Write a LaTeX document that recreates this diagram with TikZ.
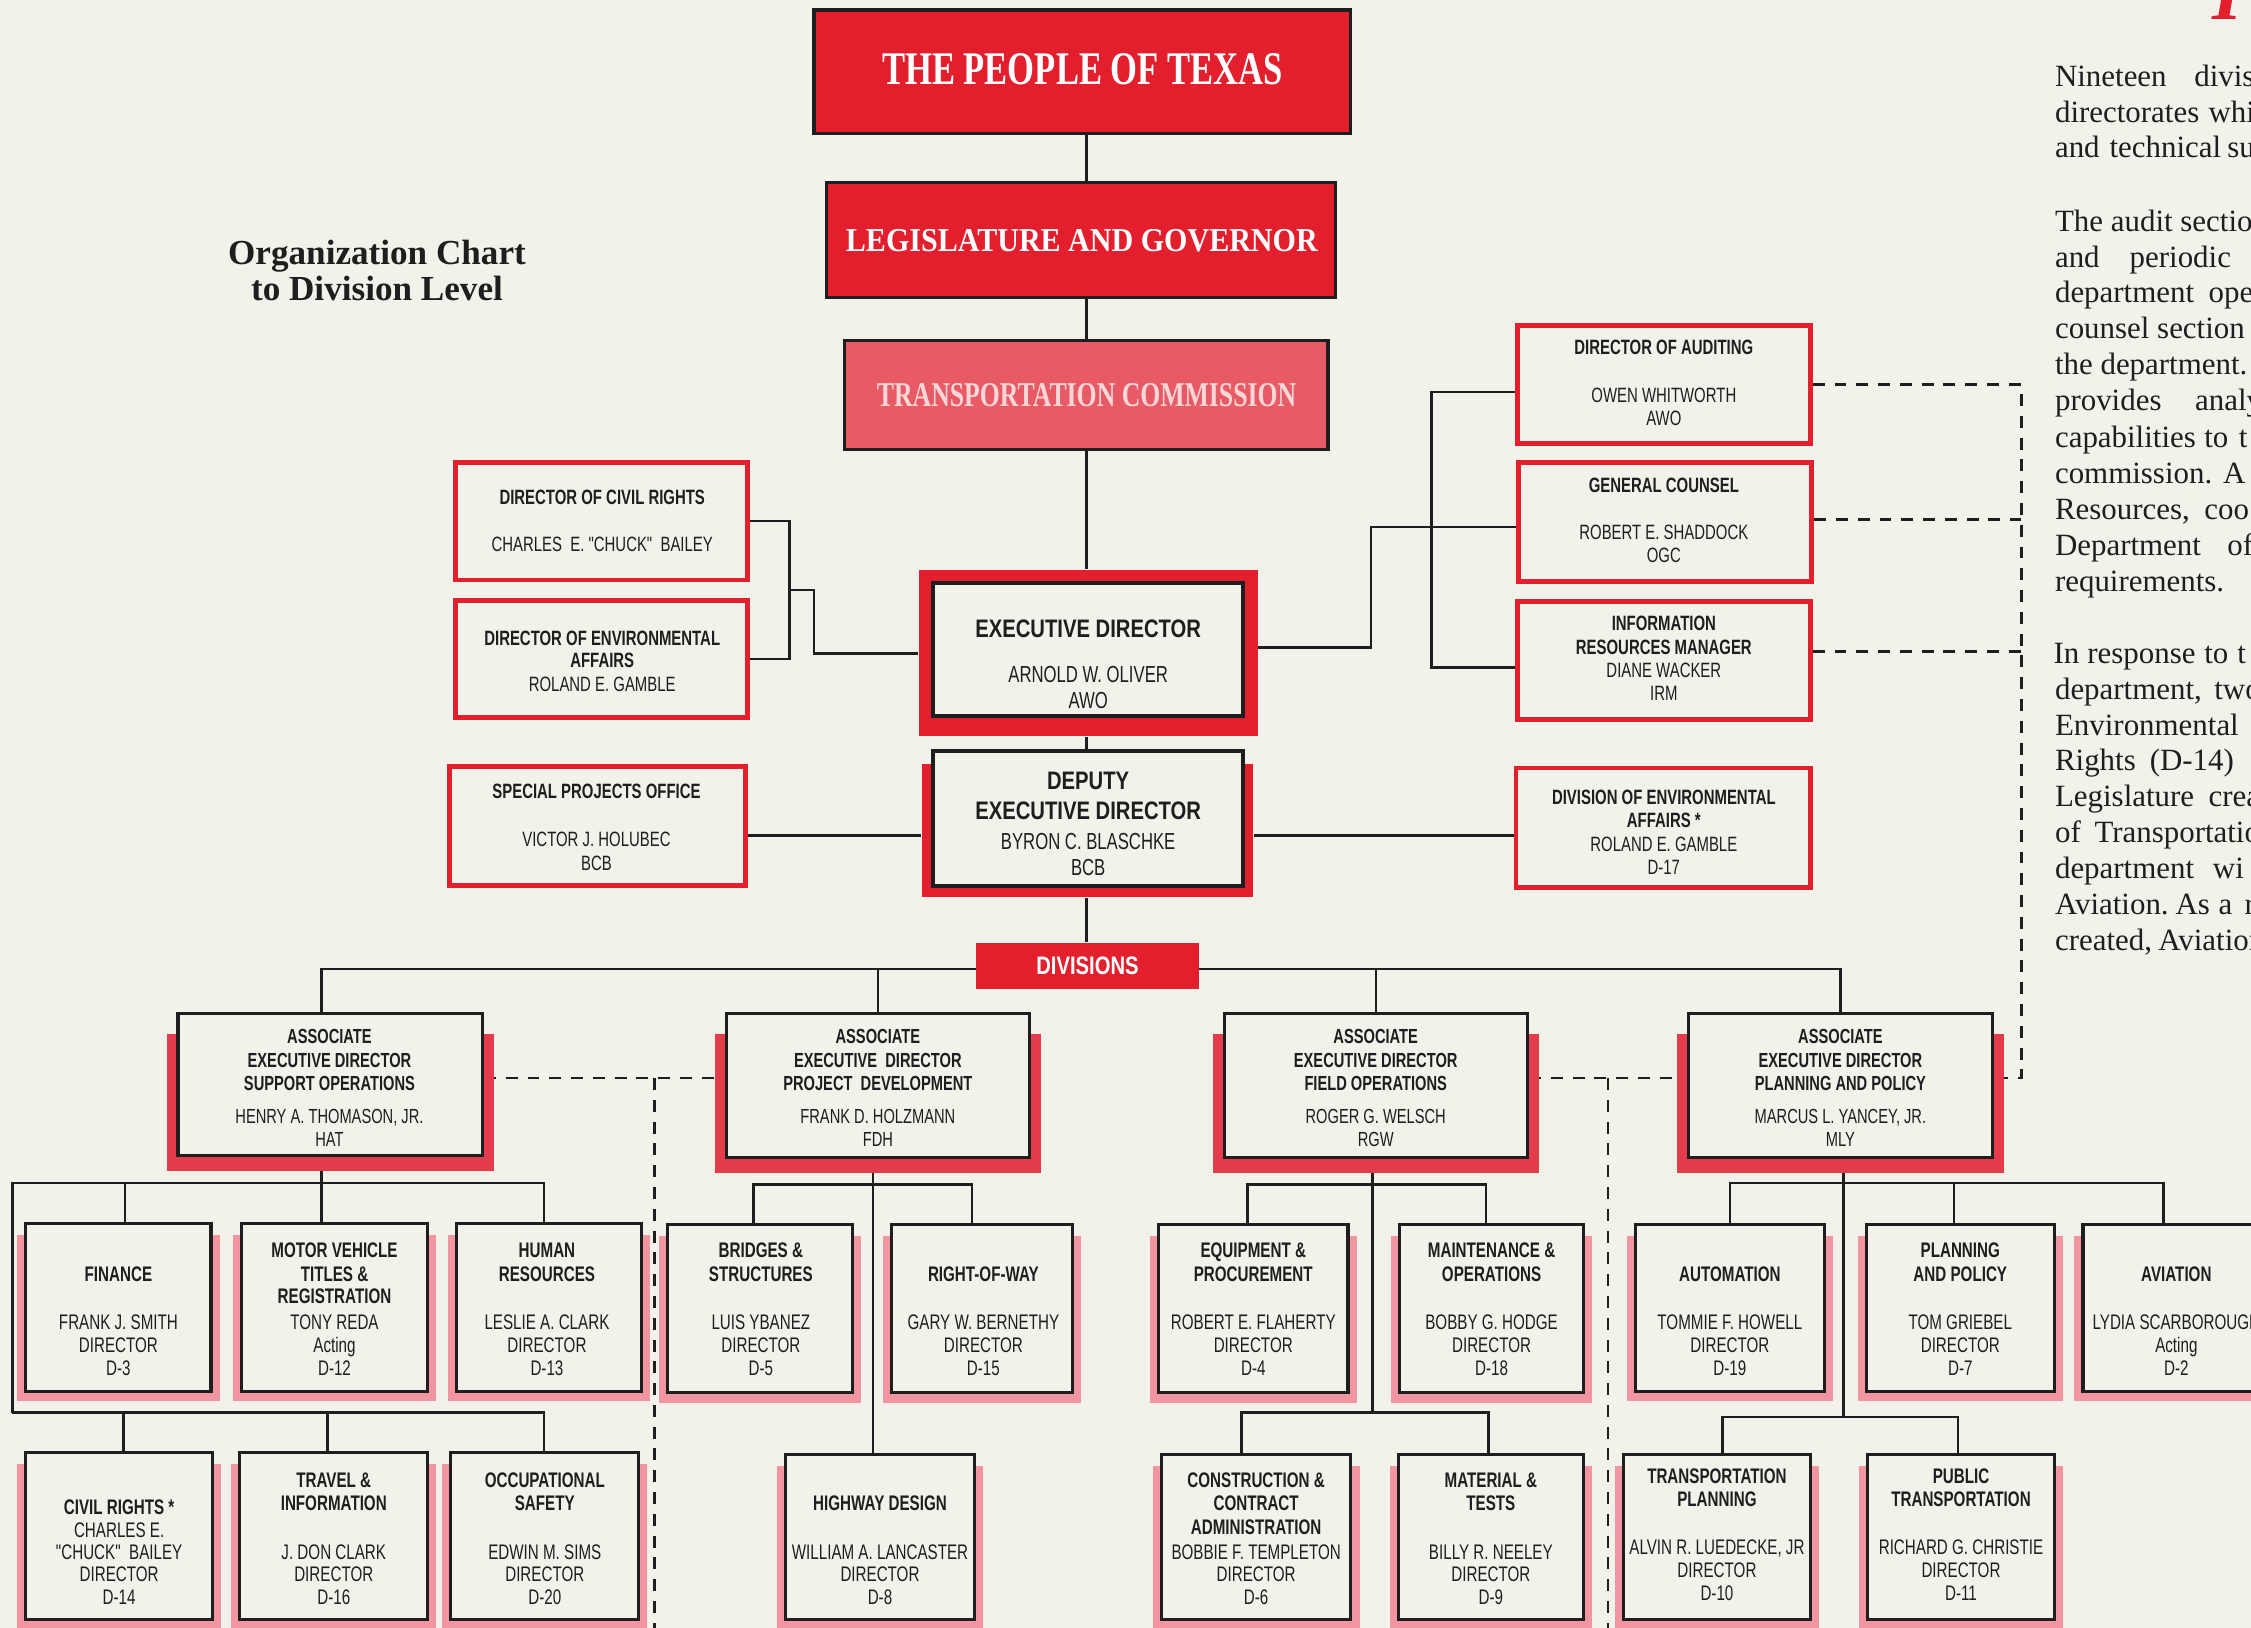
\documentclass[tikz,border=0pt]{standalone}
\usepackage{fontspec}
\usepackage{graphicx}
\setmainfont{Liberation Serif}
\newfontfamily\cond[FakeStretch=0.72]{Liberation Sans}
\newfontfamily\condw[FakeStretch=0.8]{Liberation Sans}
\usetikzlibrary{fit}
\definecolor{paper}{RGB}{242,241,234}
\definecolor{ink}{RGB}{30,30,30}
\definecolor{tred}{RGB}{227,30,45}
\definecolor{tpink}{RGB}{232,90,102}
\definecolor{tlight}{RGB}{250,215,215}
\definecolor{shred}{RGB}{229,60,76}
\definecolor{shpink}{RGB}{241,150,160}
\pgfdeclarelayer{back}\pgfdeclarelayer{bg}\pgfsetlayers{back,bg,main}
\newcounter{tlc}
\newcommand\B[1]{\textbf{#1}}
\newcommand\TL[4]{\if\relax\detokenize{#4}\relax\else\stepcounter{tlc}\node[#1] (tl\arabic{tlc}) at ({#2},{#3}) {#4};\fi}
\newcommand\rowone[7]{\TL{l6}{#1}{871}{#2}\TL{l6}{#1}{887.5}{#3}\TL{l6}{#1}{903}{#4}\TL{l6}{#1}{920.6}{#5}\TL{l6}{#1}{937}{#6}\TL{l6}{#1}{953.2}{#7}}
\newcommand\rowtwo[8]{\TL{l6}{#1}{1031+(#2)}{#3}\TL{l6}{#1}{1047+(#2)}{#4}\TL{l6}{#1}{1063.5+(#2)}{#5}\TL{l6}{#1}{1080.8+(#2)}{#6}\TL{l6}{#1}{1096.6+(#2)}{#7}\TL{l6}{#1}{1112.5+(#2)}{#8}}
\newcommand\asso[6]{\TL{la}{#1}{721.8}{\B{#2}}\TL{la}{#1}{738.4}{\B{#3}}\TL{la}{#1}{754.3}{\B{#4}}\TL{la}{#1}{777.2}{#5}\TL{la}{#1}{793.4}{#6}}
\newcommand\dbx[5]{\fill[shpink] ({#2-6},{#3+8}) rectangle ({#4+6},{#5+7});\node[dbox, fit={(#2,#3) (#4,#5)}] (#1) {};}
\newcommand\abx[5]{\fill[shred] ({#2-8},{#3+14}) rectangle ({#4+8},{#5+11});\node[dbox, fit={(#2,#3) (#4,#5)}] (#1) {};}
\newcommand\rbx[5]{\node[rbox, fit={(#2,#3) (#4,#5)}] (#1) {};}
\newcommand\PW[3]{\stepcounter{tlc}\node[para] (tl\arabic{tlc}) at ({#1},{#2+5}) {#3};}
\begin{document}
\begin{tikzpicture}[x=0.014356cm, y=-0.014356cm,
 conn/.style={draw=ink, line width=0.75pt},
 dline/.style={draw=ink, line width=0.75pt, dash pattern=on 3.4pt off 2.8pt},
 dbox/.style={draw=ink, line width=0.9pt, fill=paper, inner sep=0pt},
 rbox/.style={draw=tred, line width=1.4pt, fill=paper, inner sep=0pt},
 bigbox/.style={draw=ink, line width=0.9pt, fill=tred, inner sep=0pt},
 l6/.style={inner sep=0pt, text height=4.3pt, text depth=0pt, text=ink, font=\cond\fontsize{6}{7}\selectfont},
 la/.style={inner sep=0pt, text height=4.15pt, text depth=0pt, text=ink, font=\cond\fontsize{5.8}{7}\selectfont},
 ls/.style={inner sep=0pt, text height=4.2pt, text depth=0pt, text=ink, font=\cond\fontsize{5.9}{7}\selectfont},
 lt/.style={inner sep=0pt, text height=5.15pt, text depth=0pt, text=ink, font=\condw\bfseries\fontsize{7.2}{8}\selectfont},
 ln/.style={inner sep=0pt, text height=4.7pt, text depth=0pt, text=ink, font=\cond\fontsize{6.6}{8}\selectfont},
 para/.style={inner sep=0pt, anchor=base west, text=ink, font=\fontsize{8.8}{10}\selectfont}]
\clip (0,0) rectangle (1568,1134);
\begin{pgfonlayer}{back}\fill[paper] (0,0) rectangle (1568,1134);\end{pgfonlayer}

% heading fragment and title
\node[anchor=base west, inner sep=0pt, text=tred, font=\bfseries\itshape\fontsize{22}{22}\selectfont] (redI) at (1541,13.9) {I};
\node[anchor=base, inner sep=0pt, text=ink, font=\bfseries\fontsize{10}{12}\selectfont] (ttl1) at (262.6,184.5) {Organization Chart};
\node[anchor=base, inner sep=0pt, text=ink, font=\bfseries\fontsize{10}{12}\selectfont] (ttl2) at (262.6,209.5) {to Division Level};

% top chain
\node[bigbox, fit={(567,7) (941,93)}] (people) {};
\node[inner sep=0pt, text=white, font=\bfseries\fontsize{13.3}{14}\selectfont, text height=8.8pt, text depth=0pt] (peopleT) at (754,47.8) {\scalebox{0.74}[1]{THE PEOPLE OF TEXAS}};
\node[bigbox, fit={(576,127) (930,207)}] (legis) {};
\node[inner sep=0pt, text=white, font=\bfseries\fontsize{9.5}{10}\selectfont, text height=6.3pt, text depth=0pt] (legisT) at (753.6,167.2) {\scalebox{0.9}[1]{LEGISLATURE AND GOVERNOR}};
\node[bigbox, fill=tpink, fit={(588,237) (925,313)}] (comm) {};
\node[inner sep=0pt, text=tlight, font=\bfseries\fontsize{9.9}{10}\selectfont, text height=6.5pt, text depth=0pt] (commT) at (756.9,274.9) {\scalebox{0.74}[1]{TRANSPORTATION COMMISSION}};

% executive and deputy
\node[fill=tred, inner sep=0pt, fit={(640,397) (876,513)}] (execF) {};
\node[dbox, line width=1.1pt, fit={(650,406) (866,499)}] (exec) {};
\node[fill=tred, inner sep=0pt, fit={(642,532) (873,625)}] (depF) {};
\node[dbox, line width=1.1pt, fit={(650,523) (866,617)}] (dep) {};
\TL{lt}{758}{437.5}{EXECUTIVE DIRECTOR}
\TL{ln}{758}{470}{ARNOLD W. OLIVER}
\TL{ln}{758}{487.5}{AWO}
\TL{lt}{758}{543.5}{DEPUTY}
\TL{lt}{758}{564.3}{EXECUTIVE DIRECTOR}
\TL{ln}{758}{586}{BYRON C. BLASCHKE}
\TL{ln}{758}{603.8}{BCB}
\node[fill=tred, inner sep=0pt, fit={(680,657) (835,689)}] (divs) {};
\node[inner sep=0pt, text=white, font=\condw\bfseries\fontsize{7.2}{8}\selectfont, text height=5.1pt, text depth=0pt] (divsT) at (757.5,672.5) {DIVISIONS};

% staff boxes left
\rbx{crt}{317}{322}{521}{404}
\rbx{env}{317}{418}{521}{500}
\rbx{sp}{313}{534}{519}{617}
\TL{ls}{419.5}{346}{\B{DIRECTOR OF CIVIL RIGHTS}}
\TL{ls}{419.5}{378.7}{CHARLES\ \ E. "CHUCK"\ \ BAILEY}
\TL{ls}{419.5}{444.3}{\B{DIRECTOR OF ENVIRONMENTAL}}
\TL{ls}{419.5}{460}{\B{AFFAIRS}}
\TL{ls}{419.5}{476.5}{ROLAND E. GAMBLE}
\TL{ls}{415.5}{551.3}{\B{SPECIAL PROJECTS OFFICE}}
\TL{ls}{415.5}{584.7}{VICTOR J. HOLUBEC}
\TL{ls}{415.5}{601}{BCB}

% staff boxes right
\rbx{aud}{1057}{227}{1261}{309}
\rbx{gc}{1058}{322}{1262}{405}
\rbx{irm}{1057}{419}{1261}{501}
\rbx{denv}{1056}{535}{1261}{618}
\TL{ls}{1159}{242}{\B{DIRECTOR OF AUDITING}}
\TL{ls}{1159}{275}{OWEN WHITWORTH}
\TL{ls}{1159}{291.3}{AWO}
\TL{ls}{1159}{338}{\B{GENERAL COUNSEL}}
\TL{ls}{1159}{370.5}{ROBERT\ E. SHADDOCK}
\TL{ls}{1159}{387}{OGC}
\TL{ls}{1159}{434.3}{\B{INFORMATION}}
\TL{ls}{1159}{450.5}{\B{RESOURCES MANAGER}}
\TL{ls}{1159}{467}{DIANE WACKER}
\TL{ls}{1159}{483}{IRM}
\TL{ls}{1159}{555.5}{\B{DIVISION OF ENVIRONMENTAL}}
\TL{ls}{1159}{571.5}{\B{AFFAIRS *}}
\TL{ls}{1159}{588.3}{ROLAND E. GAMBLE}
\TL{ls}{1159}{604.3}{D-17}

% associate boxes
\abx{a1}{124}{706}{336}{805}
\abx{a2}{506}{706}{717}{806}
\abx{a3}{853}{706}{1064}{806}
\abx{a4}{1176}{706}{1388}{806}
\asso{229.5}{ASSOCIATE}{EXECUTIVE DIRECTOR}{SUPPORT OPERATIONS}{HENRY A. THOMASON, JR.}{HAT}
\asso{611.5}{ASSOCIATE}{EXECUTIVE\ \ DIRECTOR}{PROJECT\ \ DEVELOPMENT}{FRANK D. HOLZMANN}{FDH}
\asso{958.3}{ASSOCIATE}{EXECUTIVE DIRECTOR}{FIELD OPERATIONS}{ROGER G. WELSCH}{RGW}
\asso{1282}{ASSOCIATE}{EXECUTIVE DIRECTOR}{PLANNING AND POLICY}{MARCUS L. YANCEY, JR.}{MLY}

% division boxes
\dbx{fin}{18}{852}{147}{969}
\dbx{mv}{168}{852}{298}{969}
\dbx{hr}{318}{852}{447}{969}
\dbx{crd}{18}{1012}{148}{1128}
\dbx{tri}{167}{1012}{298}{1128}
\dbx{ocs}{314}{1012}{445}{1128}
\dbx{bri}{465}{853}{594}{970}
\dbx{row}{621}{853}{747}{970}
\dbx{hwy}{547}{1013}{679}{1128}
\dbx{eqp}{807}{853}{939}{970}
\dbx{mnt}{975}{853}{1103}{970}
\dbx{con}{809}{1013}{941}{1128}
\dbx{mat}{974}{1013}{1103}{1128}
\dbx{aut}{1139}{853}{1271}{969}
\dbx{pol}{1300}{853}{1431}{969}
\dbx{avi}{1451}{853}{1583}{969}
\dbx{tpl}{1131}{1013}{1261}{1128}
\dbx{pub}{1301}{1013}{1431}{1128}

\rowone{82.5}{}{\B{FINANCE}}{}{FRANK J. SMITH}{DIRECTOR}{D-3}
\rowone{233}{\B{MOTOR VEHICLE}}{\B{TITLES \&}}{\B{REGISTRATION}}{TONY REDA}{Acting}{D-12}
\rowone{381}{\B{HUMAN}}{\B{RESOURCES}}{}{LESLIE A. CLARK}{DIRECTOR}{D-13}
\rowone{530}{\B{BRIDGES \&}}{\B{STRUCTURES}}{}{LUIS YBANEZ}{DIRECTOR}{D-5}
\rowone{685}{}{\B{RIGHT-OF-WAY}}{}{GARY W. BERNETHY}{DIRECTOR}{D-15}
\rowone{873}{\B{EQUIPMENT \&}}{\B{PROCUREMENT}}{}{ROBERT E. FLAHERTY}{DIRECTOR}{D-4}
\rowone{1039}{\B{MAINTENANCE \&}}{\B{OPERATIONS}}{}{BOBBY G. HODGE}{DIRECTOR}{D-18}
\rowone{1205}{}{\B{AUTOMATION}}{}{TOMMIE\ F.\ HOWELL}{DIRECTOR}{D-19}
\rowone{1365.5}{\B{PLANNING}}{\B{AND POLICY}}{}{TOM GRIEBEL}{DIRECTOR}{D-7}
\rowone{1516}{}{\B{AVIATION}}{}{LYDIA SCARBOROUGH}{Acting}{D-2}

\TL{l6}{83}{1050}{\B{CIVIL RIGHTS *}}
\TL{l6}{83}{1065.8}{CHARLES E.}
\TL{l6}{83}{1081}{"CHUCK"\ \ BAILEY}
\TL{l6}{83}{1096.6}{DIRECTOR}
\TL{l6}{83}{1112.5}{D-14}
\rowtwo{232.5}{0}{\B{TRAVEL \&}}{\B{INFORMATION}}{}{J. DON CLARK}{DIRECTOR}{D-16}
\rowtwo{379.5}{0}{\B{OCCUPATIONAL}}{\B{SAFETY}}{}{EDWIN M. SIMS}{DIRECTOR}{D-20}
\rowtwo{613}{0}{}{\B{HIGHWAY DESIGN}}{}{WILLIAM A. LANCASTER}{DIRECTOR}{D-8}
\rowtwo{875}{0}{\B{CONSTRUCTION \&}}{\B{CONTRACT}}{\B{ADMINISTRATION}}{BOBBIE F. TEMPLETON}{DIRECTOR}{D-6}
\rowtwo{1038.5}{0}{\B{MATERIAL \&}}{\B{TESTS}}{}{BILLY R. NEELEY}{DIRECTOR}{D-9}
\rowtwo{1196}{-3}{\B{TRANSPORTATION}}{\B{PLANNING}}{}{ALVIN R. LUEDECKE, JR}{DIRECTOR}{D-10}
\rowtwo{1366}{-3}{\B{PUBLIC}}{\B{TRANSPORTATION}}{}{RICHARD G. CHRISTIE}{DIRECTOR}{D-11}

% right-hand text column (cut off at the page edge)
\PW{1431}{55}{Nineteen}\PW{1528}{55}{divis}
\PW{1431}{80}{directorates}\PW{1538}{80}{whi}
\PW{1431}{105}{and}\PW{1469}{105}{technical}\PW{1551}{105}{su}
\PW{1431}{156}{The audit sectio}
\PW{1431}{181}{and}\PW{1483}{181}{periodic}
\PW{1431}{206}{department}\PW{1538}{206}{ope}
\PW{1431}{231}{counsel section}
\PW{1431}{256}{the department.}
\PW{1431}{281}{provides}\PW{1528.6}{281}{analy}
\PW{1431}{307}{capabilities}\PW{1535}{307}{to}\PW{1559}{307}{t}
\PW{1431}{332}{commission.}\PW{1548}{332}{A}
\PW{1431}{357}{Resources,}\PW{1535}{357}{coo}
\PW{1431}{382}{Department}\PW{1551}{382}{of}
\PW{1431}{407}{requirements.}
\PW{1430}{457}{In}\PW{1453.5}{457}{response}\PW{1535}{457}{to}\PW{1558}{457}{t}
\PW{1431}{482}{department,}\PW{1542}{482}{two}
\PW{1431}{507}{Environmental}
\PW{1431}{532}{Rights}\PW{1497}{532}{(D-14)}
\PW{1431}{557}{Legislature}\PW{1538}{557}{crea}
\PW{1431}{582}{of}\PW{1458.5}{582}{Transportatio}
\PW{1431}{607}{department}\PW{1541}{607}{wi}
\PW{1431}{632}{Aviation.}\PW{1515}{632}{As}\PW{1545}{632}{a}\PW{1563}{632}{r}
\PW{1431}{657}{created,}\PW{1503}{657}{Aviation}

% ---------- connectors ----------
\begin{pgfonlayer}{bg}
\coordinate (spine) at (757,0);
\draw[conn] (people.south -| spine) -- (legis.north -| spine);
\draw[conn] (legis.south -| spine) -- (comm.north -| spine);
\draw[conn] (comm.south -| spine) -- (execF.north -| spine);
\draw[conn] (execF.south -| spine) -- (dep.north -| spine);
\draw[conn] (depF.south -| spine) -- (divs.north -| spine);

\coordinate (busT) at (0,675);
\coordinate (a1x) at (224,0);
\draw[conn] (a1.north -| a1x) |- (divs.west |- busT);
\draw[conn] (divs.east |- busT) -| (a4.north);
\draw[conn] (a2.north) -- (a2.north |- busT);
\draw[conn] (a3.north) -- (a3.north |- busT);

\coordinate (jL) at (550,0);
\draw[conn] (crt.east) -| (env.east -| jL) -- (env.east);
\coordinate (j1) at (550,411); \coordinate (j2) at (567,455);
\draw[conn] (j1) -| (j2) -- (execF.west |- j2);
\coordinate (hsp) at (0,582);
\draw[conn] (sp.east |- hsp) -- (depF.west |- hsp);
\draw[conn] (depF.east |- hsp) -- (denv.west |- hsp);

\coordinate (jR1) at (955,451); \coordinate (jR2) at (955,367);
\draw[conn] (execF.east |- jR1) -- (jR1) -- (jR2) -- (gc.west |- jR2);
\coordinate (bA) at (997,273); \coordinate (bI) at (997,465);
\draw[conn] (aud.west |- bA) -- (bA) -- (bI) -- (irm.west |- bI);

\coordinate (dA) at (1408,268); \coordinate (dG) at (1408,362);
\coordinate (dI) at (1408,454); \coordinate (dP) at (1408,751);
\draw[dline] (aud.east |- dA) -- (dA) -- (dP) -- (a4.east |- dP);
\draw[dline] (gc.east |- dG) -- (dG);
\draw[dline] (irm.east |- dI) -- (dI);
\coordinate (e1) at (456,751); \coordinate (e1b) at (456,1134);
\draw[dline] (a1.east |- e1) -- (a2.west |- e1);
\draw[dline] (e1) -- (e1b);
\coordinate (e2) at (1120,751); \coordinate (e2b) at (1120,1134);
\draw[dline] (a3.east |- e2) -- (a4.west |- e2);
\draw[dline] (e2) -- (e2b);

% group 1
\coordinate (g1t) at (224,824); \coordinate (g1L) at (8.5,824);
\coordinate (g1R) at (379,824); \coordinate (g1a) at (87,824);
\coordinate (g1L2) at (8.5,984); \coordinate (g1R2) at (379,984);
\coordinate (g1b) at (86,984); \coordinate (g1c) at (228,984);
\draw[conn] (a1.south -| g1t) -- (g1t) -- (mv.north -| g1t);
\draw[conn] (g1L2) -- (g1L) -- (g1R) -- (hr.north -| g1R);
\draw[conn] (g1a) -- (fin.north -| g1a);
\draw[conn] (g1L2) -- (g1R2) -- (ocs.north -| g1R2);
\draw[conn] (g1b) -- (crd.north -| g1b);
\draw[conn] (g1c) -- (tri.north -| g1c);
% group 2
\coordinate (g2s) at (608,825); \coordinate (g2l) at (525,825); \coordinate (g2r) at (677,825);
\draw[conn] (a2.south -| g2s) -- (hwy.north -| g2s);
\draw[conn] (bri.north -| g2l) -- (g2l) -- (g2r) -- (row.north -| g2r);
% group 3
\coordinate (g3s) at (956,984); \coordinate (g3l) at (869,825); \coordinate (g3r) at (1035,825);
\coordinate (g3l2) at (865,984); \coordinate (g3r2) at (1037,984);
\draw[conn] (a3.south -| g3s) -- (g3s);
\draw[conn] (eqp.north -| g3l) -- (g3l) -- (g3r) -- (mnt.north -| g3r);
\draw[conn] (con.north -| g3l2) -- (g3l2) -- (g3r2) -- (mat.north -| g3r2);
% group 4
\coordinate (g4s) at (1284,987); \coordinate (g4l) at (1205,824); \coordinate (g4m) at (1361,824);
\coordinate (g4r) at (1507,824); \coordinate (g4l2) at (1200,987); \coordinate (g4r2) at (1364,987);
\draw[conn] (a4.south -| g4s) -- (g4s);
\draw[conn] (aut.north -| g4l) -- (g4l) -- (g4r) -- (avi.north -| g4r);
\draw[conn] (g4m) -- (pol.north -| g4m);
\draw[conn] (tpl.north -| g4l2) -- (g4l2) -- (g4r2) -- (pub.north -| g4r2);
\end{pgfonlayer}
\end{tikzpicture}
\end{document}
